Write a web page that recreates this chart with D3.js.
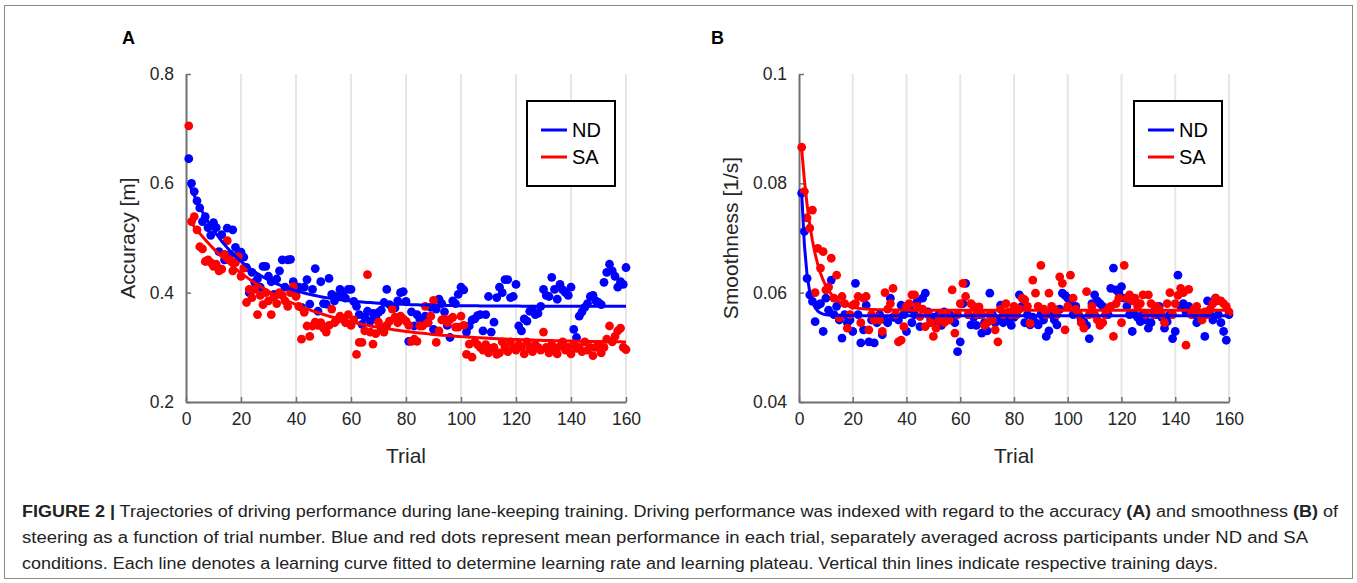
<!DOCTYPE html>
<html>
<head>
<meta charset="utf-8">
<script src="https://cdn.jsdelivr.net/npm/d3@7"></script>
<style>
  body { margin: 0; background: #fff; }
  text { font-family: "Liberation Sans", Arial, Helvetica, sans-serif; }
</style>
</head>
<body>
<div id="chart"></div>
<script>
// trial numbers 1..160
var trials = d3.range(1, 161);

// panel A: accuracy [m]
var accND = [0.645,0.600,0.585,0.568,0.555,0.530,0.539,0.519,0.505,0.528,
  0.519,0.475,0.506,0.460,0.518,0.470,0.515,0.483,0.470,0.474,
  0.465,0.446,0.400,0.437,0.419,0.425,0.410,0.448,0.448,0.430,
  0.420,0.397,0.425,0.440,0.460,0.410,0.460,0.461,0.420,0.395,
  0.410,0.373,0.410,0.424,0.379,0.406,0.444,0.366,0.420,0.380,
  0.379,0.426,0.397,0.385,0.393,0.406,0.395,0.390,0.406,0.406,
  0.384,0.375,0.360,0.342,0.355,0.366,0.348,0.362,0.355,0.364,
  0.368,0.382,0.406,0.378,0.373,0.372,0.385,0.400,0.402,0.384,
  0.311,0.365,0.339,0.360,0.352,0.340,0.357,0.345,0.373,0.333,
  0.370,0.388,0.380,0.365,0.340,0.318,0.385,0.380,0.397,0.410,
  0.405,0.328,0.339,0.350,0.352,0.358,0.360,0.330,0.360,0.393,
  0.328,0.346,0.391,0.410,0.400,0.424,0.424,0.391,0.393,0.415,
  0.339,0.330,0.352,0.348,0.366,0.370,0.360,0.362,0.375,0.406,
  0.395,0.393,0.428,0.406,0.388,0.415,0.405,0.400,0.395,0.410,
  0.333,0.318,0.357,0.365,0.373,0.380,0.393,0.395,0.385,0.382,
  0.378,0.419,0.437,0.452,0.440,0.430,0.410,0.420,0.415,0.446];
var accSA = [0.705,0.530,0.539,0.515,0.484,0.480,0.457,0.460,0.455,0.448,
  0.452,0.440,0.443,0.470,0.495,0.460,0.440,0.455,0.466,0.430,
  0.445,0.382,0.406,0.391,0.406,0.360,0.395,0.378,0.400,0.385,
  0.360,0.392,0.380,0.400,0.395,0.385,0.375,0.400,0.411,0.393,
  0.375,0.315,0.364,0.339,0.320,0.339,0.346,0.340,0.345,0.335,
  0.328,0.340,0.370,0.345,0.350,0.357,0.352,0.345,0.360,0.340,
  0.350,0.287,0.309,0.309,0.330,0.433,0.328,0.306,0.325,0.346,
  0.335,0.328,0.340,0.348,0.370,0.355,0.345,0.357,0.352,0.348,
  0.340,0.311,0.315,0.311,0.339,0.339,0.375,0.345,0.357,0.386,
  0.309,0.330,0.350,0.352,0.345,0.351,0.355,0.337,0.337,0.357,
  0.340,0.287,0.306,0.282,0.310,0.305,0.300,0.295,0.305,0.290,
  0.298,0.300,0.287,0.290,0.310,0.300,0.292,0.310,0.298,0.295,
  0.305,0.300,0.288,0.310,0.298,0.292,0.305,0.300,0.295,0.328,
  0.300,0.290,0.305,0.298,0.288,0.302,0.310,0.295,0.300,0.288,
  0.305,0.298,0.300,0.292,0.310,0.295,0.300,0.285,0.300,0.305,
  0.290,0.300,0.315,0.339,0.310,0.320,0.330,0.335,0.300,0.296];

// panel B: smoothness [1/s]
var smND = [0.0782,0.0712,0.0626,0.0596,0.0584,0.0547,0.0577,0.0580,0.0529,0.0590,
  0.0568,0.0623,0.0560,0.0575,0.0550,0.0517,0.0560,0.0545,0.0550,0.0529,
  0.0617,0.0560,0.0508,0.0532,0.0577,0.0510,0.0550,0.0508,0.0545,0.0560,
  0.0523,0.0550,0.0545,0.0590,0.0555,0.0560,0.0550,0.0577,0.0560,0.0529,
  0.0570,0.0545,0.0560,0.0584,0.0538,0.0590,0.0599,0.0565,0.0550,0.0555,
  0.0545,0.0560,0.0540,0.0565,0.0550,0.0560,0.0556,0.0545,0.0492,0.0510,
  0.0580,0.0617,0.0560,0.0541,0.0555,0.0540,0.0560,0.0526,0.0545,0.0530,
  0.0599,0.0560,0.0545,0.0550,0.0577,0.0545,0.0560,0.0550,0.0540,0.0555,
  0.0560,0.0596,0.0575,0.0545,0.0560,0.0541,0.0555,0.0545,0.0541,0.0560,
  0.0550,0.0520,0.0530,0.0560,0.0550,0.0541,0.0570,0.0599,0.0595,0.0590,
  0.0580,0.0560,0.0575,0.0560,0.0550,0.0547,0.0540,0.0516,0.0580,0.0596,
  0.0585,0.0580,0.0575,0.0570,0.0560,0.0608,0.0645,0.0605,0.0600,0.0611,
  0.0590,0.0575,0.0560,0.0529,0.0560,0.0555,0.0547,0.0560,0.0550,0.0535,
  0.0545,0.0565,0.0560,0.0575,0.0555,0.0535,0.0547,0.0560,0.0516,0.0529,
  0.0632,0.0575,0.0580,0.0565,0.0575,0.0570,0.0560,0.0545,0.0555,0.0560,
  0.0520,0.0585,0.0560,0.0550,0.0590,0.0560,0.0545,0.0529,0.0513,0.0560];
var smSA = [0.0866,0.0785,0.0737,0.0718,0.0751,0.0600,0.0681,0.0645,0.0675,0.0605,
  0.0610,0.0663,0.0590,0.0632,0.0554,0.0593,0.0580,0.0535,0.0560,0.0577,
  0.0580,0.0593,0.0545,0.0590,0.0593,0.0532,0.0560,0.0550,0.0555,0.0550,
  0.0529,0.0600,0.0570,0.0580,0.0608,0.0560,0.0510,0.0513,0.0538,0.0575,
  0.0580,0.0596,0.0596,0.0575,0.0556,0.0570,0.0538,0.0560,0.0545,0.0520,
  0.0535,0.0550,0.0560,0.0545,0.0560,0.0550,0.0605,0.0526,0.0560,0.0580,
  0.0617,0.0593,0.0560,0.0580,0.0575,0.0560,0.0574,0.0560,0.0540,0.0545,
  0.0560,0.0550,0.0532,0.0510,0.0570,0.0560,0.0580,0.0565,0.0560,0.0575,
  0.0560,0.0570,0.0590,0.0587,0.0575,0.0544,0.0623,0.0599,0.0575,0.0650,
  0.0570,0.0560,0.0599,0.0575,0.0570,0.0560,0.0629,0.0617,0.0532,0.0575,
  0.0632,0.0590,0.0570,0.0560,0.0545,0.0535,0.0602,0.0560,0.0575,0.0560,
  0.0550,0.0540,0.0545,0.0560,0.0570,0.0575,0.0520,0.0580,0.0590,0.0545,
  0.0650,0.0590,0.0596,0.0585,0.0590,0.0575,0.0580,0.0596,0.0560,0.0596,
  0.0580,0.0560,0.0575,0.0570,0.0560,0.0545,0.0580,0.0600,0.0560,0.0580,
  0.0595,0.0608,0.0600,0.0504,0.0606,0.0560,0.0570,0.0575,0.0560,0.0550,
  0.0565,0.0560,0.0570,0.0580,0.0590,0.0585,0.0585,0.0580,0.0575,0.0565];

// fitted learning curves: [value at trial 1, plateau, rate]
var fitAccND = [0.600, 0.375, 0.053];
var fitAccSA = [0.534, 0.308, 0.030];
var fitSmND = [0.0782, 0.0558, 0.55];
var fitSmSA = [0.0862, 0.0568, 0.21];

var xTicks = [0, 20, 40, 60, 80, 100, 120, 140, 160];
var gridTrials = [20, 40, 60, 80, 100, 120, 140, 160];
var yTicksAcc = [0.2, 0.4, 0.6, 0.8];
var yTicksSm = [0.04, 0.06, 0.08, 0.1];
var seriesNames = ["ND", "SA"];
var colors = ["#0000ff", "#ff0000"];

var svg = d3.select("#chart").append("svg")
  .attr("width", 1357)
  .attr("height", 583);

svg.append("rect")
  .attr("x", 0).attr("y", 0).attr("width", 1357).attr("height", 583)
  .attr("fill", "#fff");

// outer frame
svg.append("rect")
  .attr("x", 4.5).attr("y", 5.5).attr("width", 1348).attr("height", 573)
  .attr("fill", "none").attr("stroke", "#8a8a8a").attr("stroke-width", 1);

function drawPanel(p) {
  var x = d3.scaleLinear().domain([0, 160]).range([p.left, p.right]);
  var y = d3.scaleLinear().domain(p.yDomain).range([402, 74]);
  var g = svg.append("g");

  // day grid lines
  g.selectAll(".grid")
    .data(gridTrials)
    .enter()
    .append("line")
    .attr("x1", function(d) { return x(d); })
    .attr("x2", function(d) { return x(d); })
    .attr("y1", 74).attr("y2", 402)
    .attr("stroke", "#e6e6e6")
    .attr("stroke-width", 2);

  // axes
  var ya = g.append("g")
    .attr("transform", "translate(" + p.left + ",0)")
    .call(d3.axisLeft(y).tickValues(p.yTicks).tickSize(-5).tickSizeOuter(0)
      .tickPadding(12).tickFormat(function(d) { return String(d); }));
  var xa = g.append("g")
    .attr("transform", "translate(0,402)")
    .call(d3.axisBottom(x).tickValues(xTicks).tickSize(-5).tickSizeOuter(0)
      .tickPadding(11));
  [ya, xa].forEach(function(a) {
    a.select(".domain").attr("stroke", "#707070").attr("stroke-width", 2);
    a.selectAll(".tick line").attr("stroke", "#707070").attr("stroke-width", 1.5);
    a.selectAll(".tick text").attr("fill", "#262626").style("font-size", "17.5px")
      .style("font-family", "'Liberation Sans', Arial, sans-serif");
  });

  // dots
  p.series.forEach(function(s, i) {
    g.append("g").selectAll("circle")
      .data(s)
      .enter()
      .append("circle")
      .attr("cx", function(d, j) { return x(trials[j]); })
      .attr("cy", function(d) { return y(d); })
      .attr("r", 4.4)
      .attr("fill", colors[i]);
  });

  // fitted curves
  var line = d3.line()
    .x(function(d) { return x(d[0]); })
    .y(function(d) { return y(d[1]); });
  p.fits.forEach(function(f, i) {
    var pts = trials.map(function(t) {
      return [t, f[1] + (f[0] - f[1]) * Math.exp(-f[2] * (t - 1))];
    });
    g.append("path")
      .attr("d", line(pts))
      .attr("fill", "none")
      .attr("stroke", colors[i])
      .attr("stroke-width", 3);
  });

  // labels
  g.append("text")
    .attr("x", (p.left + p.right) / 2)
    .attr("y", 463)
    .attr("text-anchor", "middle")
    .attr("fill", "#262626")
    .style("font-size", "21px")
    .text("Trial");
  g.append("text")
    .attr("transform", "translate(" + p.yLabelX + ",238) rotate(-90)")
    .attr("text-anchor", "middle")
    .attr("fill", "#262626")
    .style("font-size", "21px")
    .text(p.yLabel);
  g.append("text")
    .attr("x", p.letterX)
    .attr("y", 44)
    .attr("fill", "#000")
    .style("font-size", "18px")
    .style("font-weight", "bold")
    .text(p.letter);

  // legend
  var lg = g.append("g").attr("transform", "translate(" + p.legendX + ",101)");
  lg.append("rect")
    .attr("width", 88).attr("height", 85)
    .attr("fill", "#fff").attr("stroke", "#000").attr("stroke-width", 2);
  seriesNames.forEach(function(n, i) {
    lg.append("line")
      .attr("x1", 14).attr("x2", 40)
      .attr("y1", 29 + i * 27).attr("y2", 29 + i * 27)
      .attr("stroke", colors[i]).attr("stroke-width", 3);
    lg.append("text")
      .attr("x", 45).attr("y", 36 + i * 27)
      .attr("fill", "#000")
      .style("font-size", "20px")
      .text(n);
  });
}

drawPanel({
  left: 186, right: 626, yDomain: [0.2, 0.8], yTicks: yTicksAcc,
  series: [accND, accSA], fits: [fitAccND, fitAccSA],
  yLabel: "Accuracy [m]", yLabelX: 135, letter: "A", letterX: 122, legendX: 527
});
drawPanel({
  left: 799, right: 1229, yDomain: [0.04, 0.1], yTicks: yTicksSm,
  series: [smND, smSA], fits: [fitSmND, fitSmSA],
  yLabel: "Smoothness [1/s]", yLabelX: 738, letter: "B", letterX: 711, legendX: 1134
});

// caption
var cap = svg.append("g")
  .style("font-family", "'Liberation Sans Narrow', 'Liberation Sans', Arial, sans-serif")
  .style("font-size", "16px")
  .attr("fill", "#222");
var l1 = cap.append("text").attr("x", 22).attr("y", 517)
  .attr("textLength", 1316).attr("lengthAdjust", "spacingAndGlyphs");
l1.append("tspan").style("font-weight", "bold").text("FIGURE 2 |");
l1.append("tspan").text(" Trajectories of driving performance during lane-keeping training. Driving performance was indexed with regard to the accuracy ");
l1.append("tspan").style("font-weight", "bold").text("(A)");
l1.append("tspan").text(" and smoothness ");
l1.append("tspan").style("font-weight", "bold").text("(B)");
l1.append("tspan").text(" of");
cap.append("text").attr("x", 22).attr("y", 543)
  .attr("textLength", 1286).attr("lengthAdjust", "spacingAndGlyphs")
  .text("steering as a function of trial number. Blue and red dots represent mean performance in each trial, separately averaged across participants under ND and SA");
cap.append("text").attr("x", 22).attr("y", 569)
  .attr("textLength", 1196).attr("lengthAdjust", "spacingAndGlyphs")
  .text("conditions. Each line denotes a learning curve fitted to determine learning rate and learning plateau. Vertical thin lines indicate respective training days.");
</script>
</body>
</html>
